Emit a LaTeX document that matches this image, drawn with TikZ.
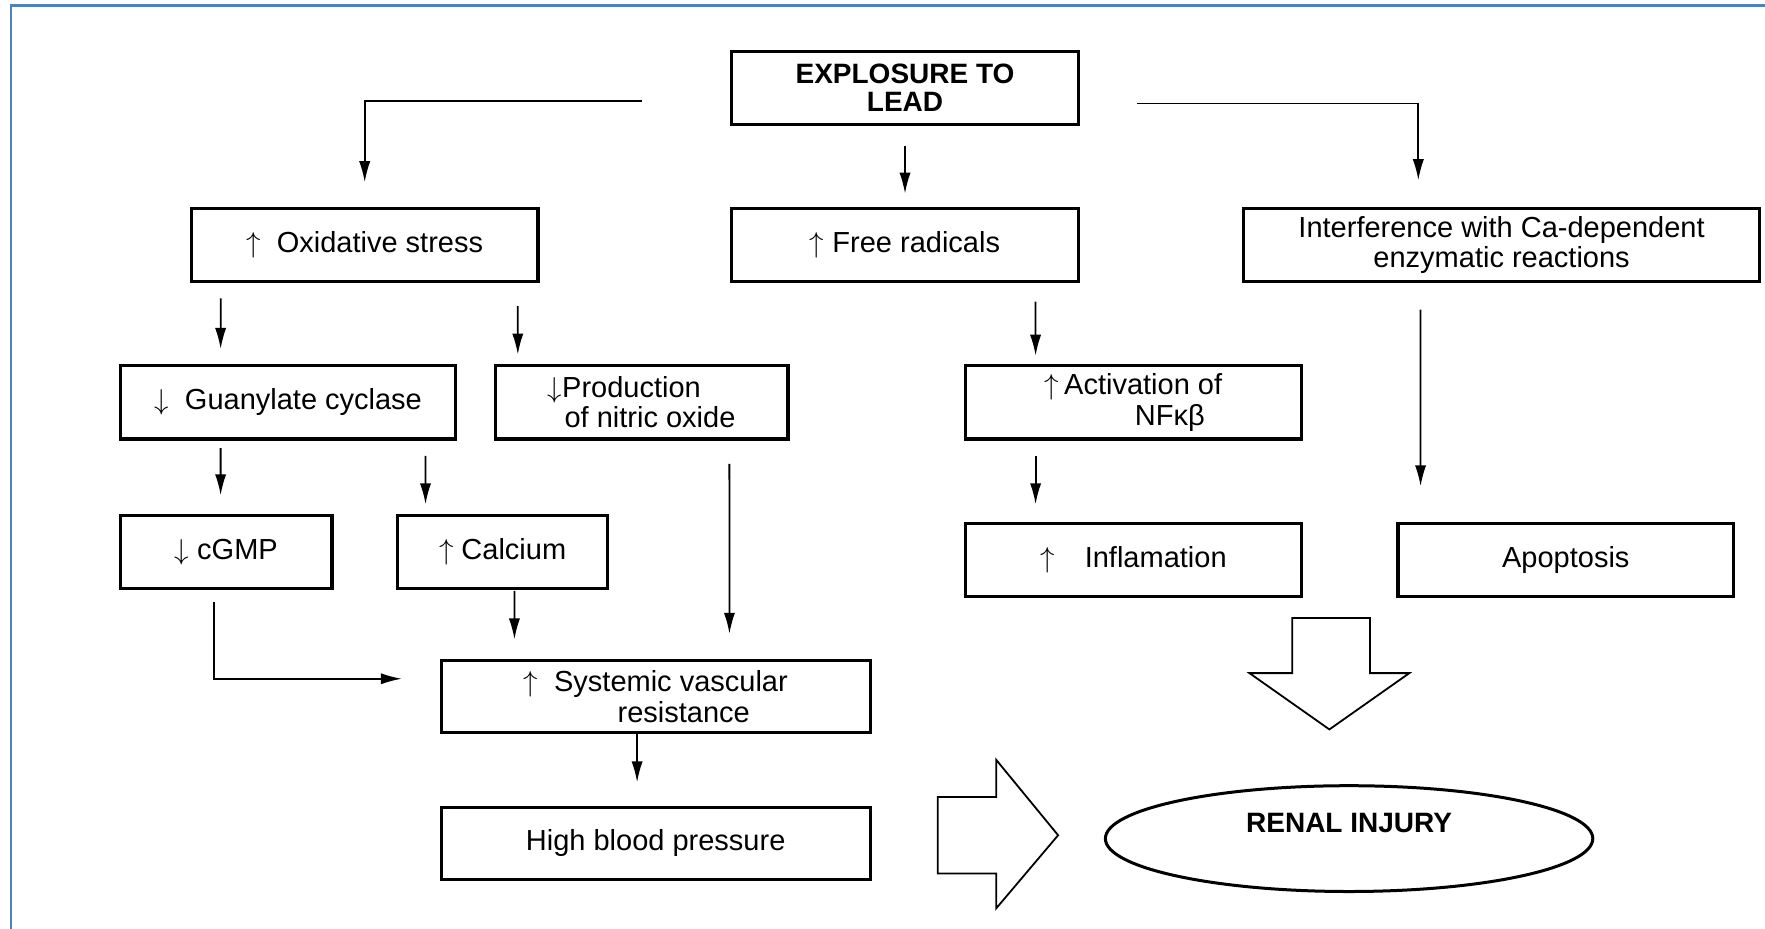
\documentclass[tikz,border=0pt]{standalone}
\usepackage{fontspec}
\setmainfont{Liberation Sans}
\usetikzlibrary{arrows.meta,calc,shapes.geometric}
\definecolor{framecol}{RGB}{79,129,189}
\newcommand\upmark{$\uparrow$}
\newcommand\downmark{$\downarrow$}

\begin{document}
\begin{tikzpicture}[x=0.5628pt, y=-0.5628pt, >={Latex[length=10.5pt,width=5.6pt]},
 every node/.style={font=\fontsize{14.5}{15.2}\selectfont},
 box/.style={draw,line width=1.6pt,outer sep=0pt,minimum height=36.6pt,align=center,inner sep=2pt},
 heading/.style={font=\fontsize{14}{14.2}\selectfont\bfseries},
 arr/.style={->,line width=0.9pt}, block/.style={draw,line width=0.9pt,line join=miter}]
\useasboundingbox (0,0) rectangle (1568,825);
\draw[framecol,line width=1.2pt] (10,825) -- (10,5) -- (1568,5);
\node[box,heading,minimum width=173.3pt] (lead) at (804,78) {EXPLOSURE TO\\LEAD};
\node[box,minimum width=173.3pt] (oxi) at (324,217.5) {\upmark~~Oxidative stress};
\node[box,minimum width=173.3pt] (free) at (804,217.5) {\upmark\ Free radicals};
\node[box,minimum width=257.8pt] (ca) at (1334,217.5) {Interference with Ca-dependent\\enzymatic reactions};
\node[box,minimum width=167.7pt] (guan) at (256,357.5) {\downmark~~Guanylate cyclase};
\node[box,minimum width=146.3pt,align=left] (no) at (570,357.5) {\downmark Production\\\hspace*{8.4pt}of nitric oxide};
\node[box,minimum width=167.7pt,align=left] (nfkb) at (1007,357.5) {\upmark\,Activation of\\\hspace*{45pt}NFκβ};
\node[box,minimum width=105.8pt] (cgmp) at (201,490.5) {\downmark\ cGMP};
\node[box,minimum width=105.2pt] (calc) at (446.5,490.5) {\upmark\ Calcium};
\node[box,minimum width=167.7pt] (infl) at (1007,497.5) {\upmark\hspace{15pt}Inflamation};
\node[box,minimum width=167.7pt] (apop) at (1391,497.5) {Apoptosis};
\node[box,minimum width=214.4pt,minimum height=36pt,align=left] (svr) at (582.5,619) {\upmark~~Systemic vascular\\\hspace*{47pt}resistance};
\node[box,minimum width=214.4pt,minimum height=36pt] (hbp) at (582.5,749) {High blood pressure};
\node[ellipse,draw,line width=1.5pt,heading,minimum width=243.7pt,minimum height=52.9pt,
 text height=10pt,text depth=15.8pt] (renal) at (1198.5,745) {RENAL INJURY};
\draw[arr,shorten >=13pt] ($(lead.west)+(-80,12)$) -| (oxi.north);
\draw[arr,shorten <=10.7pt,shorten >=7.3pt] (lead) -- (free);
\draw[arr,shorten >=14pt] ($(lead.east)+(52,14)$) -| ($(ca.north)+(-74,0)$);
\draw[arr] ($(oxi.south west)+(26,15)$) -- ($(guan.north west)+(89,-15)$);
\draw[arr] ($(oxi.south east)+(-18,22)$) -- ($(no.north west)+(20,-10)$);
\draw[arr] ($(free.south east)+(-38,18)$) -- ($(nfkb.north west)+(62,-9)$);
\draw[arr] ($(ca.south west)+(157,25)$) -- ($(apop.north west)+(20,-33)$);
\draw[arr] ($(guan.south west)+(89,8)$) -- ($(cgmp.north west)+(89,-18)$);
\draw[arr] ($(guan.south east)+(-27,15)$) -- ($(calc.north west)+(25,-10)$);
\draw[arr] ($(no.south east)+(-52,22)$) -- ($(svr.north west)+(256,-24)$);
\draw[arr] ($(nfkb.south west)+(62,15)$) -- ($(infl.north west)+(62,-17)$);
\draw[arr] ($(calc.south)+(10.5,2)$) -- ($(svr.north west)+(65,-19)$);
\draw[arr] ($(cgmp.south)+(-11,12)$) |- ($(svr.west)+(-35,-16)$);
\draw[arr] ($(svr.south)+(-16.5,1)$) -- ($(hbp.north)+(-16.5,-22)$);
\draw[block] (833,708) -- (885,708) -- (885,675) -- (940,742) -- (885,807) -- (885,776) -- (833,776) -- cycle;
\draw[block] (1148,549) -- (1217,549) -- (1217,598) -- (1252,598) -- (1181,648) -- (1110,598) -- (1148,598) -- cycle;
\end{tikzpicture}
\end{document}
